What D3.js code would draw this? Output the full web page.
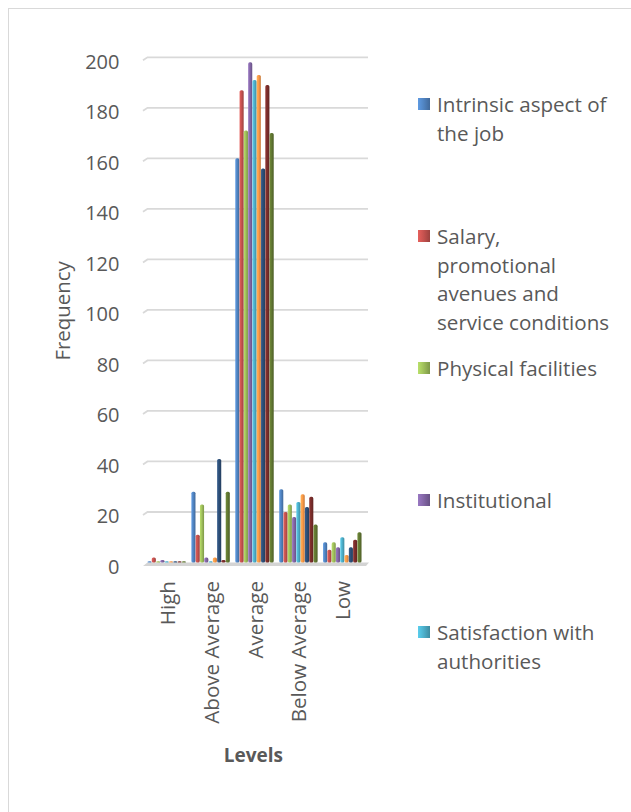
<!DOCTYPE html>
<html>
<head>
<meta charset="utf-8">
<script src="https://cdn.jsdelivr.net/npm/d3@7"></script>
<style>
  body { margin: 0; background: #fff; }
  svg text { font-family: 'Open Sans', sans-serif; fill: #595959; }
</style>
</head>
<body>
<svg id="chart" width="631" height="812"></svg>
<script>
// Satisfaction levels (x-axis categories)
const levels = ["High", "Above Average", "Average", "Below Average", "Low"];

// Frequency of respondents per level, one array per job-satisfaction factor
const intrinsicAspect   = [0, 28, 160, 29, 8];
const salaryPromotion   = [2, 11, 187, 20, 5];
const physicalFacility  = [0, 23, 171, 23, 8];
const institutional     = [1, 2, 198, 18, 6];
const authorities       = [0, 0, 191, 24, 10];
const factorSix         = [0, 2, 193, 27, 3];
const factorSeven       = [0, 41, 156, 22, 6];
const factorEight       = [0, 1, 189, 26, 9];
const factorNine        = [0, 28, 170, 15, 12];

const seriesNames = [
  "Intrinsic aspect of the job",
  "Salary, promotional avenues and service conditions",
  "Physical facilities",
  "Institutional",
  "Satisfaction with authorities",
  "Factor 6", "Factor 7", "Factor 8", "Factor 9"
];
const seriesValues = [intrinsicAspect, salaryPromotion, physicalFacility, institutional,
  authorities, factorSix, factorSeven, factorEight, factorNine];

// Legend entries as they wrap beside the plot
const legendLines = [
  ["Intrinsic aspect of", "the job"],
  ["Salary,", "promotional", "avenues and", "service conditions"],
  ["Physical facilities"],
  ["Institutional"],
  ["Satisfaction with", "authorities"]
];

const yTicks = [0, 20, 40, 60, 80, 100, 120, 140, 160, 180, 200];
const colors = ["#4F81BD", "#C0504D", "#9BBB59", "#8064A2", "#4BACC6",
                "#F79646", "#2C4D75", "#772C2A", "#5F7530"];

const svg = d3.select("#chart");

// Chart-area frame
svg.append("rect")
  .attr("x", 8.5).attr("y", 8.5)
  .attr("width", 900).attr("height", 900)
  .attr("fill", "#fff").attr("stroke", "#d9d9d9").attr("stroke-width", 1);

const y = d3.scaleLinear().domain([0, 200]).range([562.5, 57.3]);
const x0 = d3.scaleBand().domain(levels).range([144.75, 364.25])
  .paddingInner(0.12).paddingOuter(0.06);
const x1 = d3.scaleBand().domain(d3.range(seriesNames.length))
  .range([0, x0.bandwidth()]).padding(0);

// Column shading gradients
const defs = svg.append("defs");
colors.forEach((c, i) => {
  const g = defs.append("linearGradient").attr("id", "grad" + i)
    .attr("x1", "0%").attr("x2", "100%").attr("y1", "0%").attr("y2", "0%");
  const base = d3.color(c);
  g.append("stop").attr("offset", "0%").attr("stop-color", base.brighter(0.5));
  g.append("stop").attr("offset", "40%").attr("stop-color", base.brighter(0.15));
  g.append("stop").attr("offset", "100%").attr("stop-color", base.darker(0.6));
});

// Gridlines with a short slanted back-wall segment on the left
const grid = svg.append("g");
yTicks.filter(t => t > 0).forEach(t => {
  const yy = y(t);
  grid.append("path")
    .attr("d", `M143,${yy + 3} L147.5,${yy} H368`)
    .attr("fill", "none").attr("stroke", "#d9d9d9").attr("stroke-width", 1.8);
});

// Floor
svg.append("path")
  .attr("d", `M143,${y(0) + 3.5} L147.5,${y(0)} H369 L366,${y(0) + 3.5} Z`)
  .attr("fill", "#d4d4d4");

// Y tick labels
svg.append("g").selectAll("text").data(yTicks).join("text")
  .attr("x", 119.5).attr("y", d => y(d) + 3.7)
  .attr("text-anchor", "end").attr("dominant-baseline", "central")
  .style("font-size", "20px")
  .text(d => d);

// Columns
const groups = svg.append("g").selectAll("g").data(levels).join("g")
  .attr("transform", d => `translate(${x0(d)},0)`);
groups.selectAll("rect")
  .data((lv, li) => seriesValues.map((vals, si) => ({ si, v: vals[li] })))
  .join("rect")
  .attr("x", d => x1(d.si) + 0.1)
  .attr("width", x1.bandwidth() - 0.2)
  .attr("y", d => Math.min(y(d.v), y(0) - 1.2))
  .attr("height", d => Math.max(y(0) - y(d.v), 1.2))
  .attr("rx", 1.6).attr("ry", 1.6)
  .attr("fill", d => `url(#grad${d.si})`);

// X tick labels (rotated)
svg.append("g").selectAll("text").data(levels).join("text")
  .attr("transform", d => `translate(${x0(d) + x0.bandwidth() / 2},581) rotate(-90)`)
  .attr("text-anchor", "end").attr("dominant-baseline", "central")
  .style("font-size", "20.6px")
  .text(d => d);

// Axis titles
svg.append("text")
  .attr("transform", "translate(62,311) rotate(-90)")
  .attr("text-anchor", "middle").attr("dominant-baseline", "central")
  .style("font-size", "20.4px")
  .text("Frequency");

svg.append("text")
  .attr("x", 253.3).attr("y", 762)
  .attr("text-anchor", "middle")
  .style("font-size", "19px").style("font-weight", "bold")
  .text("Levels");

// Legend (first five factors)
const legend = svg.append("g");
legendLines.forEach((lines, i) => {
  const cy = 104 + 132 * i;
  legend.append("rect")
    .attr("x", 418).attr("y", cy - 6).attr("width", 12).attr("height", 12)
    .attr("fill", `url(#grad${i})`);
  lines.forEach((ln, j) => {
    legend.append("text")
      .attr("x", 437).attr("y", cy + j * 28.6)
      .attr("dominant-baseline", "central")
      .style("font-size", "20.6px")
      .text(ln);
  });
});
</script>
</body>
</html>
